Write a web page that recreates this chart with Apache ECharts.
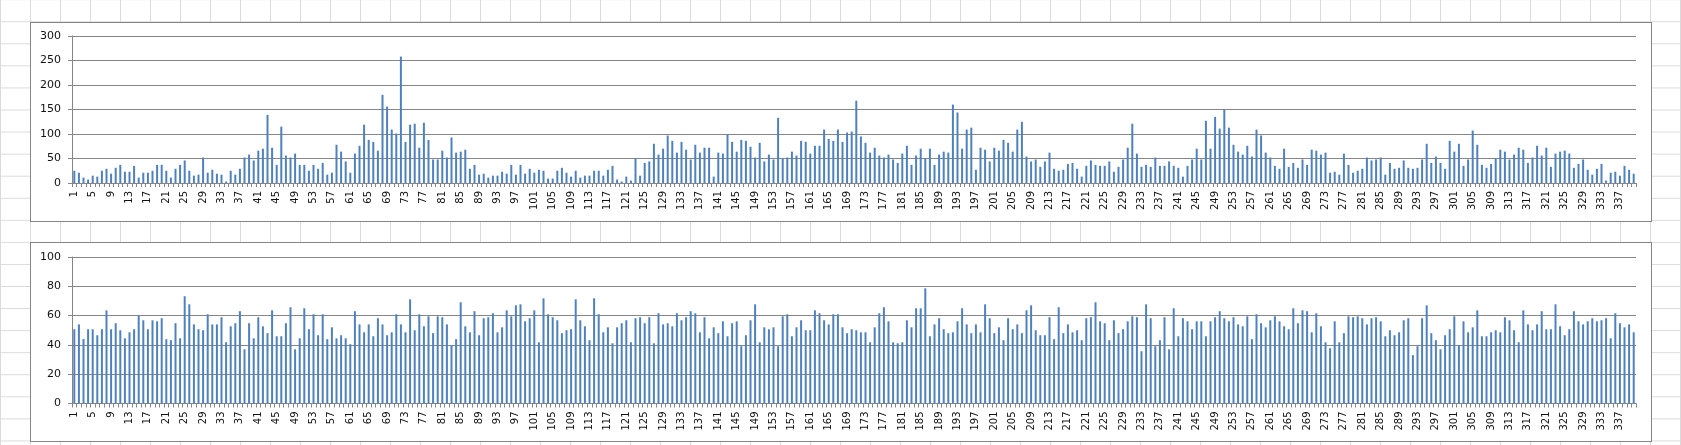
<!DOCTYPE html>
<html>
<head>
<meta charset="utf-8">
<script src="https://cdn.jsdelivr.net/npm/echarts@6/dist/echarts.min.js"></script>
<style>
html,body{margin:0;padding:0;width:1681px;height:445px;overflow:hidden;background:#fff;}
body{
  background-image:
    linear-gradient(to right,#dadada 1px,transparent 1px),
    linear-gradient(to bottom,#dadada 1px,transparent 1px);
  background-size:30px 22.07px;
  background-position:0 -0.8px;
}
.box{position:absolute;left:30px;width:1620px;height:198px;background:#fff;border:1px solid #868686;}
#chart{position:absolute;left:0;top:0;width:1681px;height:445px;}
</style>
</head>
<body>
<div class="box" style="top:22px"></div>
<div class="box" style="top:242px"></div>
<div id="chart"></div>
<script>
// categories 1..340
const categories = [];
for (let i = 1; i <= 340; i++) categories.push(String(i));

const topValues = [
25,21,11,7,15,13,25,29,19,31,
37,23,23,35,11,21,21,25,37,37,
25,11,29,37,46,25,15,17,52,21,
27,19,17,3,25,17,29,52,58,46,
66,70,139,72,37,115,56,52,60,37,
37,25,37,29,41,17,21,78,64,44,
21,60,76,119,88,84,66,180,156,109,
101,258,84,119,121,72,123,88,48,48,
66,52,93,62,64,68,29,37,17,19,
11,15,15,23,19,37,17,37,19,29,
21,27,25,9,9,25,31,21,13,25,
11,15,15,25,25,15,27,35,7,3,
13,5,50,15,41,44,80,58,70,97,
86,62,84,68,48,78,62,72,72,13,
62,60,99,84,64,88,86,74,52,82,
44,58,48,133,50,52,64,56,86,84,
60,76,76,109,90,86,109,84,103,105,
168,95,82,62,72,56,52,58,48,41,
60,76,37,56,70,50,70,37,58,64,
62,160,144,70,109,113,27,72,68,44,
72,66,88,82,64,109,125,54,44,48,
33,44,62,29,25,27,39,41,29,13,
35,46,37,35,35,44,23,33,48,72,
121,60,33,37,33,52,35,35,44,35,
31,13,35,48,70,48,127,70,135,111,
150,113,78,64,58,76,54,109,97,62,
52,35,29,70,33,41,31,48,37,68,
66,58,62,21,23,17,60,37,21,25,
29,52,46,48,52,17,41,29,31,46,
31,29,31,48,80,41,54,41,29,86,
64,80,35,48,107,78,37,31,39,50,
68,64,48,58,72,68,41,52,76,56,
72,33,60,64,66,60,31,39,48,27,
17,29,39,5,21,23,15,35,27,19
];

const bottomValues = [
50.7,54,44,50.7,50.7,46.6,50.7,63.6,50.7,54.8,
50,44.5,48.6,50.7,60,56.8,50.7,56.8,56.1,58.2,
43.9,43.2,54.8,44.5,73.2,67.7,54,50.7,50,60.9,
54,54,58.9,41.8,52.7,54.8,63,37,54.8,44.5,
58.9,52.7,48,63.6,45.9,45.9,54.8,65.7,37,44.5,
65,50.7,60.9,46.6,60.9,43.9,52,44.5,46.6,44.5,
40.5,63,54,48.6,54,45.9,58.2,54,46.6,48.6,
60.9,54,48.6,71.1,50,60.9,52.7,59.5,48,59.5,
58.9,54,39.8,43.9,69.1,52.7,48.6,63,46.6,58.2,
58.9,61.6,48.6,52,63.6,59.5,67,67.7,56.1,58.2,
63.6,41.8,71.8,60.9,58.9,56.8,48,50,50.7,71.1,
56.8,52.7,43.2,71.8,60.9,48.6,52,41.1,52,54.8,
56.8,41.8,58.2,58.9,54.8,58.9,41.1,61.6,54,54.8,
52.7,61.6,56.8,58.9,63,61.6,48.6,58.9,44.5,52,
48,56.1,45.9,54.8,56.1,39.1,46.6,56.8,67.7,41.8,
52,50.7,52,39.1,59.5,60.9,45.9,52,56.8,50,
50,63.6,61.6,56.8,54,60.9,60.9,52,48,50.7,
50,48.6,48.6,41.8,52,61.6,65.7,56.1,41.8,41.1,
41.8,56.8,52,65,65,78.6,45.9,54,58.2,50.7,
48,48.6,56.1,65,54,48,54,48.6,67.7,58.2,
48,52,43.2,58.2,50.7,54,48,63.6,67,50,
46.6,46.6,58.9,43.9,65.7,48,54,48.6,50,43.2,
58.2,58.9,69.1,56.1,54.8,43.2,56.8,48,50.7,56.1,
59.5,58.9,35.7,67.7,58.2,39.1,43.2,58.9,37,65,
45.9,58.2,56.1,50.7,56.1,56.1,45.9,56.1,58.9,63,
58.2,56.1,58.9,54,52.7,59.5,43.9,60.9,54.8,52,
56.8,59.5,56.1,52.7,50.7,65,54.8,63.6,63,48.6,
61.6,52.7,41.8,37.7,56.1,41.8,48,59.5,58.9,59.5,
58.2,54,58.2,58.9,56.1,45.9,50,46.6,48.6,56.8,
58.2,33,39.1,58.2,67,48,43.2,37,46.6,50.7,
59.5,39.8,56.1,48.6,52,63.6,45.9,45.9,48.6,50,
48.6,58.9,56.8,50,41.8,63.6,54,50,54,63,
50.7,50.7,67.7,52.7,46.6,50.7,63,56.1,54,56.1,
58.2,56.1,56.8,58.2,44.5,61.6,54.8,52,54,48.6
];

const topTicks = {min: 0, max: 300, interval: 50};
const bottomTicks = {min: 0, max: 100, interval: 20};

const GRID_COLOR = '#868686';
const BAR_COLOR = '#4F81BD';
const FONT = 'DejaVu Sans';

function xAxis(gridIndex) {
  return {
    type: 'category', gridIndex, data: categories,
    boundaryGap: true,
    axisLine: {show: true, lineStyle: {color: GRID_COLOR, width: 1}},
    axisTick: {show: true, interval: 0, length: 4, lineStyle: {color: GRID_COLOR}},
    axisLabel: {interval: 3, rotate: 90, margin: 8, fontFamily: FONT, fontSize: 10, color: '#111'},
    splitLine: {show: false}
  };
}
function yAxis(gridIndex, t) {
  return {
    type: 'value', gridIndex, min: t.min, max: t.max, interval: t.interval,
    axisLine: {show: true, lineStyle: {color: GRID_COLOR, width: 1}},
    axisTick: {show: true, length: 4, lineStyle: {color: GRID_COLOR}},
    axisLabel: {margin: 11, fontFamily: FONT, fontSize: 11, color: '#111'},
    splitLine: {show: true, lineStyle: {color: GRID_COLOR, width: 1}}
  };
}

const chart = echarts.init(document.getElementById('chart'), null, {renderer: 'canvas'});
chart.setOption({
  animation: false,
  backgroundColor: 'transparent',
  grid: [
    {left: 72, right: 45, top: 36, height: 147},
    {left: 72, right: 45, top: 257, height: 146.5}
  ],
  xAxis: [xAxis(0), xAxis(1)],
  yAxis: [yAxis(0, topTicks), yAxis(1, bottomTicks)],
  series: [
    {type: 'bar', xAxisIndex: 0, yAxisIndex: 0, data: topValues, barWidth: 2, itemStyle: {color: BAR_COLOR}},
    {type: 'bar', xAxisIndex: 1, yAxisIndex: 1, data: bottomValues, barWidth: 2, itemStyle: {color: BAR_COLOR}}
  ]
});
</script>
</body>
</html>
